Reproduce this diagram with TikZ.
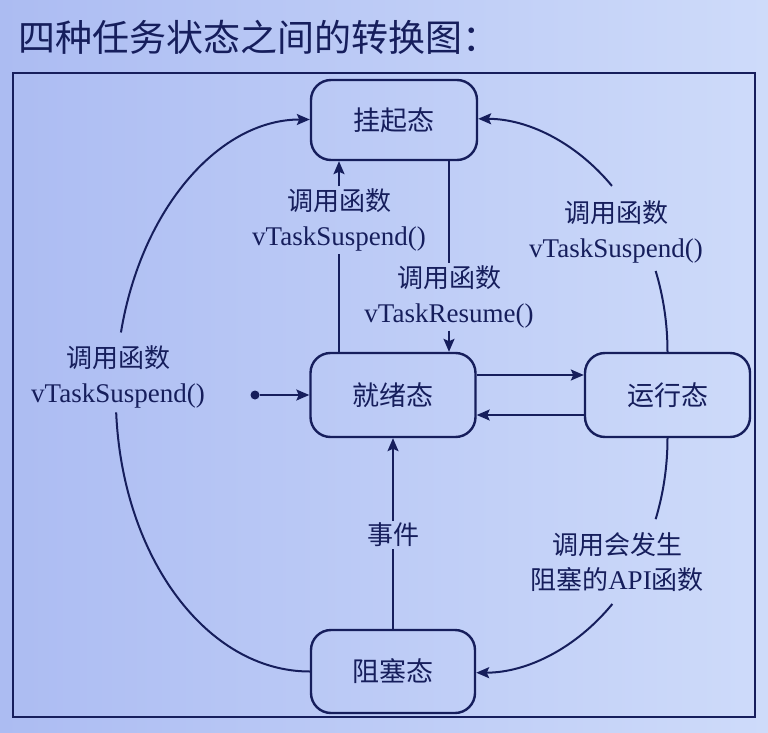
\documentclass[tikz,border=0pt]{standalone}
\usepackage{fontspec}
\setmainfont{Liberation Serif}
\newfontfamily\cjk{Noto Sans CJK SC}
\usetikzlibrary{arrows.meta,calc}
\definecolor{navy}{RGB}{22,30,92}
\definecolor{bgl}{RGB}{172,188,242}
\definecolor{bgr}{RGB}{206,219,250}
\begin{document}
\begin{tikzpicture}[x=1pt,y=1pt,
  state/.style={draw=navy, line width=2.4pt, rounded corners=20pt, minimum width=166pt,
    minimum height=82pt, font=\cjk\fontsize{27}{30}\selectfont, text=navy, inner sep=0pt},
  lbl/.style={align=center, text=navy, font=\fontsize{27}{35}\selectfont, inner sep=2pt},
  conn/.style={draw=navy, line width=2pt},
  arr/.style={conn, -{Stealth[length=13pt,width=11pt,inset=2.5pt]}},
]
\shade[left color=bgl,right color=bgr] (0,0) rectangle (768,-733);
\useasboundingbox (0,0) rectangle (768,-733);

\node[anchor=west, text=navy, font=\cjk\fontsize{37}{40}\selectfont, inner sep=0pt] (title) at (18,-37) {四种任务状态之间的转换图：};
\draw[navy, line width=2.5pt] (13,-73) rectangle (755,-717);

\node[state, minimum width=166pt, minimum height=80pt] (gq) at (394,-120) {挂起态};
\node[state, minimum width=165pt, minimum height=84pt] (jx) at (393,-395) {就绪态};
\node[state, minimum width=165pt, minimum height=84pt] (yr) at (667.5,-395) {运行态};
\node[state, minimum width=164pt, minimum height=83pt] (zs) at (393,-671.5) {阻塞态};

\node[lbl] (l1) at (339,-220) {{\cjk\fontsize{26}{35}\selectfont 调用函数}\\vTaskSuspend()};
\node[lbl] (l2) at (449,-297) {{\cjk\fontsize{26}{35}\selectfont 调用函数}\\vTaskResume()};
\node[lbl] (l3) at (118,-377) {{\cjk\fontsize{26}{35}\selectfont 调用函数}\\vTaskSuspend()};
\node[lbl] (l4) at (616,-232) {{\cjk\fontsize{26}{35}\selectfont 调用函数}\\vTaskSuspend()};
\node[lbl] (l5) at (617,-562) {{\cjk\fontsize{26}{35}\selectfont 调用会发生}\\{\cjk\fontsize{26}{35}\selectfont 阻塞的}API{\cjk\fontsize{26}{35}\selectfont 函数}};
\node[lbl] (l6) at (393,-535) {\cjk\fontsize{26}{35}\selectfont 事件};

\node[circle, fill=navy, inner sep=0pt, minimum size=9pt] (start) at (255,-395) {};
\draw[arr] (start) -- (jx.west);

\draw[arr] ([yshift=20pt]jx.east) -- ([yshift=20pt]jx.east -| yr.west);
\draw[arr] ([yshift=-20pt]yr.west) -- ([yshift=-20pt]yr.west -| jx.east);

\draw[conn] (jx.north -| l1) -- (l1.south);
\draw[arr] (l1.north) -- (l1.north |- gq.south);
\draw[conn] (gq.south -| l2) -- (l2.north);
\draw[arr] (l2.south) -- (l2.south |- jx.north);
\draw[conn] (zs.north -| l6) -- (l6.south);
\draw[arr] (l6.north) -- (jx.south);

% left arc: blocked -> suspended
\draw[conn] (zs.west) arc[start angle=270, end angle=183.5, x radius=194pt, y radius=276pt];
\coordinate (c3) at ($(zs.west)+(0,276)+(166.8:194pt and 276pt)$);
\draw[arr] (c3) arc[start angle=166.8, end angle=90, x radius=194pt, y radius=276pt];

% top right arc: running -> suspended
\draw[conn] (yr.north) arc[start angle=0, end angle=20.3, x radius=190.5pt, y radius=233pt];
\coordinate (c4) at ($(gq.east |- yr.north)+(45.4:190.5pt and 233pt)$);
\draw[arr] (c4) arc[start angle=45.4, end angle=90, x radius=190.5pt, y radius=233pt];

% bottom right arc: running -> blocked
\draw[conn] (yr.south) arc[start angle=0, end angle=-20.2, x radius=192.5pt, y radius=234.5pt];
\coordinate (c5) at ($(zs.east |- yr.south)+(-45:192.5pt and 234.5pt)$);
\draw[arr] (c5) arc[start angle=-45, end angle=-90, x radius=192.5pt, y radius=234.5pt];
\end{tikzpicture}
\end{document}
